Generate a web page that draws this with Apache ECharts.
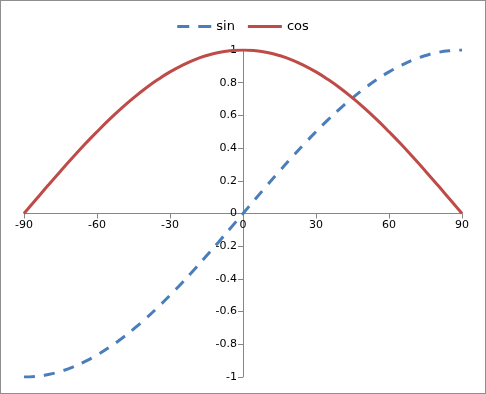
<!DOCTYPE html>
<html><head><meta charset="utf-8">
<script src="https://cdn.jsdelivr.net/npm/echarts@6/dist/echarts.min.js"></script>
<style>html,body{margin:0;padding:0;background:#fff}#c{width:484px;height:392px;border:1px solid #8e8e8e}</style>
</head><body><div id="c"></div>
<script>
const xValues = [-90,-85,-80,-75,-70,-65,-60,-55,-50,-45,-40,-35,-30,-25,-20,-15,-10,-5,0,5,10,15,20,25,30,35,40,45,50,55,60,65,70,75,80,85,90];
const sinValues = [-1,-0.996,-0.985,-0.966,-0.94,-0.906,-0.866,-0.819,-0.766,-0.707,-0.643,-0.574,-0.5,-0.423,-0.342,-0.259,-0.174,-0.087,0,0.087,0.174,0.259,0.342,0.423,0.5,0.574,0.643,0.707,0.766,0.819,0.866,0.906,0.94,0.966,0.985,0.996,1];
const cosValues = [0,0.087,0.174,0.259,0.342,0.423,0.5,0.574,0.643,0.707,0.766,0.819,0.866,0.906,0.94,0.966,0.985,0.996,1,0.996,0.985,0.966,0.94,0.906,0.866,0.819,0.766,0.707,0.643,0.574,0.5,0.423,0.342,0.259,0.174,0.087,0];
const seriesNames = ['sin','cos'];
const font = 'DejaVu Sans';
const gridL = 23, gridR = 23, gridT = 49, gridB = 16, W = 484, H = 392;
const chart = echarts.init(document.getElementById('c'), null, {renderer:'canvas'});
chart.setOption({
  animation:false,
  legend:{top:14,left:'center',itemWidth:34,itemHeight:3,itemGap:13,
    textStyle:{fontFamily:font,fontSize:13,color:'#000'},
    data:[{name:seriesNames[0],icon:'path://M0,0H12V3H0Z M21,0H34V3H21Z'},{name:seriesNames[1],icon:'rect'}]},
  grid:{left:gridL,right:gridR,top:gridT,bottom:gridB,containLabel:false},
  xAxis:{type:'value',min:-90,max:90,interval:30,position:'bottom',
    offset:-(H-gridT-gridB)/2,
    axisLine:{onZero:false,lineStyle:{color:'#868686',width:1}},
    axisTick:{show:true,length:5,lineStyle:{color:'#868686'}},
    splitLine:{show:false},
    axisLabel:{fontFamily:font,fontSize:11,color:'#000',margin:6}},
  yAxis:{type:'value',min:-1,max:1,interval:0.2,position:'left',
    offset:-(W-gridL-gridR)/2,
    axisLine:{onZero:false,lineStyle:{color:'#868686',width:1}},
    axisTick:{show:true,length:5,lineStyle:{color:'#868686'}},
    splitLine:{show:false},
    axisLabel:{fontFamily:font,fontSize:11,color:'#000',margin:6,
      formatter:v=>String(Math.round(v*10)/10)}},
  series:[
    {name:seriesNames[0],type:'line',smooth:true,symbol:'none',
     data:xValues.map((x,i)=>[x,sinValues[i]]),
     lineStyle:{color:'#4a7ebb',width:3,type:[11,9],cap:'butt'},itemStyle:{color:'#4a7ebb'}},
    {name:seriesNames[1],type:'line',smooth:true,symbol:'none',
     data:xValues.map((x,i)=>[x,cosValues[i]]),
     lineStyle:{color:'#be4b48',width:3},itemStyle:{color:'#be4b48'}}
  ]
});
</script></body></html>
